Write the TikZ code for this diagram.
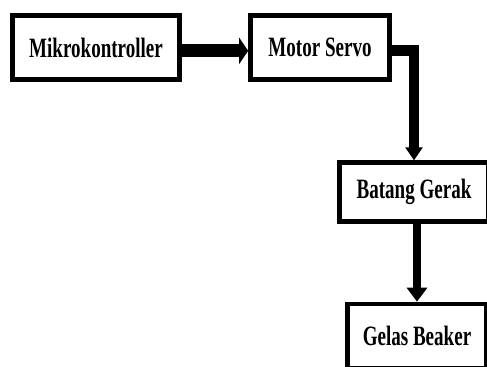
\documentclass[tikz,border=0pt]{standalone}
\usepackage{fontspec}
\setmainfont{Liberation Serif}
\newfontfamily\blokfont[FakeStretch=0.68]{Liberation Serif}
\usepackage{tikz}
\usetikzlibrary{arrows.meta, positioning}

\begin{document}
\begin{tikzpicture}[
        x=0.75pt, y=-0.75pt,
        blok/.style={rectangle, draw=black, fill=white, line width=3.5pt, inner sep=0pt, align=center, font=\blokfont\fontsize{21}{24}\selectfont\bfseries},
        panah/.style={line width=#1, color=black, line join=miter}
    ]
        \useasboundingbox (0,0) rectangle (487,367);
        \clip (0,0) rectangle (487,367);

        \node[blok, minimum width=125.25pt, minimum height=48pt] (mikro) at (96, 47.5) {Mikrokontroller};
        \node[blok, minimum width=104.25pt, minimum height=48pt] (servo) at (320, 47.5) {Motor Servo};
        \node[blok, minimum width=111.75pt, minimum height=43.9pt] (batang) at (414, 192) {Batang Gerak};
        \node[blok, minimum width=104.25pt, minimum height=48pt] (gelas) at (417, 336) {Gelas Beaker};

        \draw[panah=9.75pt, -{Triangle[length=6.75pt, width=19.5pt]}] ([yshift=-2.5pt]mikro.east) -- ([yshift=-2.5pt]servo.west);
        \draw[panah=8pt, -{Triangle[length=9.75pt, width=12.5pt]}] ([yshift=-2.5pt]servo.east) -| (batang.north);
        \draw[panah=6.5pt, -{Triangle[length=10.5pt, width=15pt]}] (batang.south -| gelas.north) -- (gelas.north);
    \end{tikzpicture}
\end{document}
